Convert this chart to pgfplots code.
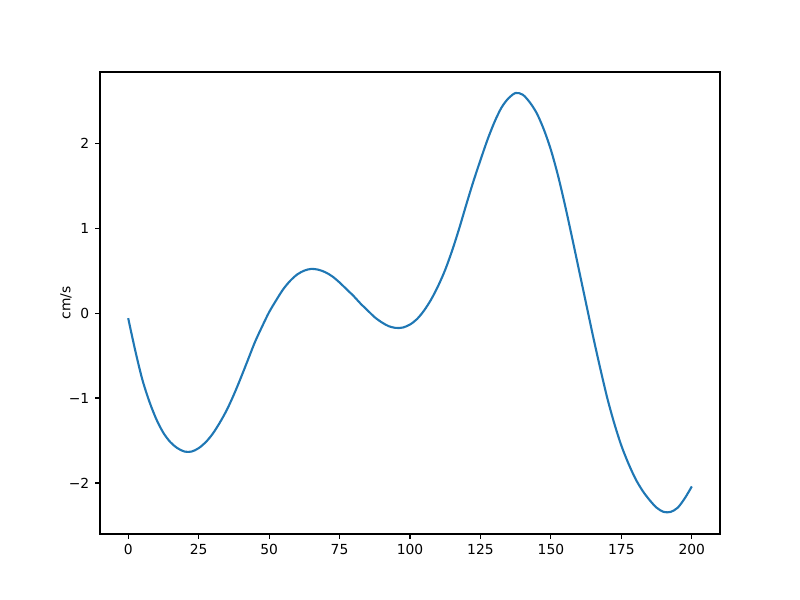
\documentclass[border=0pt]{standalone}
\usepackage{pgfplots}
\pgfplotsset{compat=1.18}
\usepackage{fontspec}
\setmainfont{DejaVu Sans}
\definecolor{mplblue}{HTML}{1F77B4}

\begin{document}
\fontsize{13.9}{16}\selectfont
\begin{tikzpicture}
	\begin{axis}[
	scale only axis,
	width=620bp, height=462bp,
	xmin=-10, xmax=210,
	ymin=-2.6, ymax=2.837,
	xtick={0,25,50,75,100,125,150,175,200},
	ytick={-2,-1,0,1,2},
	yticklabels={−2,−1,0,1,2},
	/pgf/number format/assume math mode=true,
	tick align=outside,
	tick pos=left,
	major tick length=4.9bp,
	every tick/.style={black, line width=1.1bp},
	axis line style={line width=1.1bp},
	ylabel={cm/s},
	ylabel style={at={(axis description cs:-0.055,0.5)}, anchor=center},
	xticklabel style={yshift=-1bp},
	yticklabel style={xshift=-1bp},
	]
	\addplot[color=mplblue, line width=2.1bp, smooth, tension=0.5] coordinates {
		(0,-0.06)(2.5,-0.44)(5,-0.78)(7.5,-1.04)(10,-1.25)(12.5,-1.41)(15,-1.52)(17.5,-1.59)
		(20,-1.63)(22.5,-1.63)(25,-1.59)(27.5,-1.52)(30,-1.42)(32.5,-1.29)(35,-1.14)
		(37.5,-0.96)(40,-0.76)(42.5,-0.55)(45,-0.34)(47.5,-0.16)(50,0.01)(52.5,0.15)
		(55,0.28)(57.5,0.38)(60,0.455)(62.5,0.50)(65,0.52)(67.5,0.51)(70,0.48)(72.5,0.43)
		(75,0.36)(77.5,0.28)(80,0.20)(82.5,0.11)(85,0.03)(87.5,-0.05)(90,-0.11)(92.5,-0.155)
		(95,-0.175)(97.5,-0.17)(100,-0.135)(102.5,-0.07)(105,0.03)(107.5,0.16)(110,0.32)
		(112.5,0.51)(115,0.74)(117.5,1.00)(120,1.28)(122.5,1.55)(125,1.80)(127.5,2.04)
		(130,2.25)(132.5,2.42)(135,2.53)(137.5,2.59)(140,2.57)(142.5,2.48)(145,2.35)
		(147.5,2.16)(150,1.92)(152.5,1.62)(155,1.27)(157.5,0.89)(160,0.50)(162.5,0.11)
		(165,-0.28)(167.5,-0.65)(170,-1.00)(172.5,-1.30)(175,-1.56)(177.5,-1.77)
		(180,-1.95)(182.5,-2.09)(185,-2.20)(187.5,-2.29)(190,-2.34)(192.5,-2.34)
		(195,-2.29)(197.5,-2.18)(200,-2.04)};
	\end{axis}
	\path[use as bounding box] (current axis.south west) ++(-100bp,-66bp) rectangle ++(800bp,600bp);
\end{tikzpicture}
\end{document}
